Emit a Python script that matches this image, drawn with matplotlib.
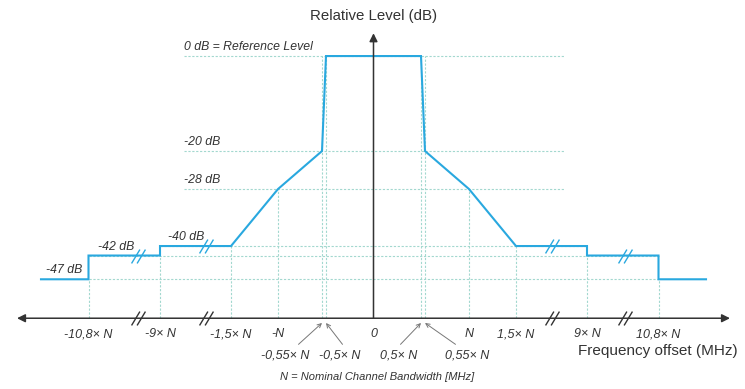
import matplotlib
matplotlib.use('Agg')
import matplotlib.pyplot as plt
from matplotlib.path import Path

plt.rcParams['font.family'] = ['Liberation Sans', 'DejaVu Sans']

# schematic x positions (broken axis) of each offset, and their labels
tick_x = [-285, -213.5, -142.5, -95.5, -51.5, -47.5, 0, 47.5, 51.5, 95.5, 142.5, 213.5, 285]
tick_labels = ['-10,8× N', '-9× N', '-1,5× N', '-N', '-0,55× N', '-0,5× N', '0',
               '0,5× N', '0,55× N', 'N', '1,5× N', '9× N', '10,8× N']
# labels placed below the axis with small arrows
low_labels = ['-0,55× N', '-0,5× N', '0,5× N', '0,55× N']

# spectrum mask
mask_x = [-332.5, -285, -285, -213.5, -213.5, -142.5, -95.5, -51.5, -47.5,
          47.5, 51.5, 95.5, 142.5, 213.5, 213.5, 285, 285, 332.5]
mask_db = [-47, -47, -42, -42, -40, -40, -28, -20, 0,
           0, -20, -28, -40, -40, -42, -42, -47, -47]

# level labels
levels = [0, -20, -28, -40, -42, -47]
level_labels = ['0 dB = Reference Level', '-20 dB', '-28 dB', '-40 dB', '-42 dB', '-47 dB']
level_span = [(-190, 190), (-190, 190), (-190, 190), (-213.5, 213.5), (-285, 285), (-285, 285)]
level_text_x = [-190, -190, -190, -206, -276, -327]

# top of vertical guide lines for each tick
guide_top = [-47, -42, -40, -28, 0, 0, None, 0, 0, -28, -40, -42, -47]

break_x = [-236, -168, 178, 251]

BLUE = '#29a8df'
GRID = '#a3d8cf'
DARK = '#333333'
AXIS_Y = -55.2


def main():
    fig = plt.figure(figsize=(7.45, 3.89), dpi=100)
    ax = fig.add_axes([0, 0, 1, 1])
    ax.set_xlim(-373.5, 371.5)
    ax.set_ylim(-70.1, 11.8)
    ax.axis('off')

    # guide lines
    for lv, (x0, x1) in zip(levels, level_span):
        ax.plot([x0, x1], [lv, lv], color=GRID, lw=0.8, ls=(0, (2, 1.5)), zorder=1)
    for x, top in zip(tick_x, guide_top):
        if top is None:
            continue
        ax.plot([x, x], [AXIS_Y, top], color=GRID, lw=0.8, ls=(0, (2, 1.5)), zorder=1)

    # mask
    ax.plot(mask_x, mask_db, color=BLUE, lw=1.5, zorder=3, solid_joinstyle='miter')

    # axes with arrows
    ax.annotate('', xy=(356.5, AXIS_Y), xytext=(-356.5, AXIS_Y),
                arrowprops=dict(arrowstyle='<|-|>', color=DARK, lw=1.1,
                                mutation_scale=12, shrinkA=0, shrinkB=0))
    ax.annotate('', xy=(0, 4.8), xytext=(0, AXIS_Y),
                arrowprops=dict(arrowstyle='-|>', color=DARK, lw=1.1,
                                mutation_scale=12, shrinkA=0, shrinkB=0))

    # break marks (slanted //)
    brk = Path([(-1, -1), (0.2, 1), (-0.2, -1), (1, 1)],
               [Path.MOVETO, Path.LINETO, Path.MOVETO, Path.LINETO])
    for bx in break_x:
        lv = -40 if abs(bx) < 200 else -42
        ax.plot(bx, lv, marker=brk, ms=10, mew=1.0, color=BLUE, zorder=4)
        ax.plot(bx, AXIS_Y, marker=brk, ms=10, mew=1.0, color=DARK, zorder=4)

    # level labels
    for lv, lab, tx in zip(levels, level_labels, level_text_x):
        ax.text(tx, lv + 1.9, lab, fontsize=8.8, style='italic', color=DARK,
                ha='left', va='center')

    # tick labels
    for x, lab in zip(tick_x, tick_labels):
        if lab in low_labels:
            continue
        ax.text(x, AXIS_Y - 3.4, lab, fontsize=9, style='italic', color=DARK,
                ha='center', va='center')

    # lower labels with arrows
    low_pos = [-88.5, -33.5, 25.5, 93.5]
    tail_x = [-75, -31, 27, 82]
    for lab, lx, tx in zip(low_labels, low_pos, tail_x):
        x = tick_x[tick_labels.index(lab)]
        ax.text(lx, AXIS_Y - 7.8, lab, fontsize=9, style='italic', color=DARK,
                ha='center', va='center')
        ax.annotate('', xy=(x, AXIS_Y - 1.0), xytext=(tx, AXIS_Y - 5.5),
                    arrowprops=dict(arrowstyle='->', color='#777777', lw=0.7,
                                    mutation_scale=7, shrinkA=0, shrinkB=0))

    ax.text(0, 8.4, 'Relative Level (dB)', fontsize=10.8, color=DARK,
            ha='center', va='center')
    ax.text(364, AXIS_Y - 6.8, 'Frequency offset (MHz)', fontsize=11, color=DARK,
            ha='right', va='center')
    ax.text(3.5, AXIS_Y - 12.3, 'N = Nominal Channel Bandwidth [MHz]', fontsize=8,
            style='italic', color=DARK, ha='center', va='center')

    fig.savefig('out.png', dpi=100)


if __name__ == '__main__':
    main()
